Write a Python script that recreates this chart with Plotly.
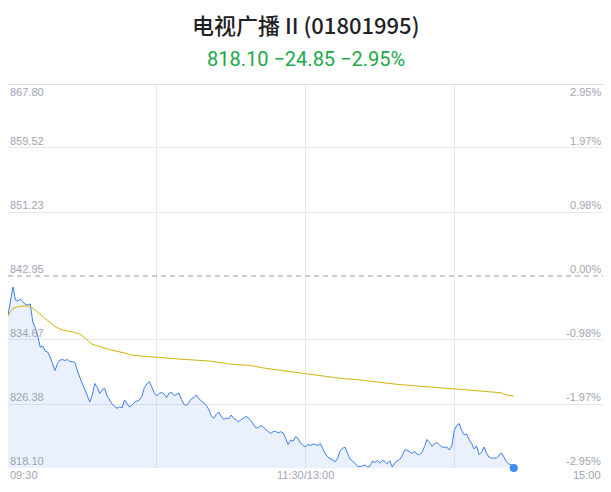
import plotly.graph_objects as go

# ---- data ----
price = [837.90, 839.84, 841.53, 839.84, 839.71, 839.97, 839.65, 839.26, 839.20, 839.33,
         836.99, 836.28, 835.18, 833.76, 833.89, 833.24, 833.11, 832.47, 831.56, 830.72,
         831.69, 832.08, 832.14, 832.01, 832.14, 831.88, 831.88, 831.75, 830.65, 829.75,
         828.97, 828.26, 827.55, 826.64, 827.55, 829.04, 828.52, 827.74, 828.26, 828.39,
         827.42, 826.84, 826.38, 826.06, 825.83, 826.02, 825.87, 826.90, 826.38, 826.00,
         826.25, 826.58, 826.77, 826.90, 827.35, 828.52, 828.97, 829.30, 828.58, 827.81,
         827.42, 827.77, 827.87, 827.68, 827.22, 827.81, 827.87, 827.48, 827.64, 827.77,
         826.97, 826.34, 826.19, 826.71, 827.06, 827.22, 827.55, 827.06, 826.84, 826.51,
         826.19, 825.67, 824.89, 824.53, 825.02, 825.35, 824.77, 824.38, 824.57, 824.47,
         824.96, 824.51, 824.34, 824.05, 824.38, 824.51, 824.77, 824.57, 824.21, 823.73,
         823.28, 823.34, 823.60, 823.37, 823.15, 822.82, 822.57, 822.82, 822.82, 822.63,
         822.80, 822.63, 821.92, 821.14, 821.72, 821.55, 822.15, 821.92, 821.34, 821.01,
         820.88, 821.14, 821.01, 821.21, 821.14, 821.01, 821.27, 820.62, 819.91, 819.52,
         819.34, 819.11, 818.91, 819.39, 820.36, 820.66, 820.78, 819.98, 819.23, 819.01,
         818.68, 818.33, 818.27, 818.36, 818.49, 818.23, 818.32, 819.01, 818.81, 819.07,
         818.75, 819.11, 818.94, 818.64, 819.04, 818.23, 818.75, 819.01, 819.20, 819.72,
         820.43, 820.41, 820.24, 820.00, 820.24, 819.91, 819.81, 820.11, 820.88, 821.79,
         821.40, 820.91, 821.21, 821.40, 821.10, 820.82, 820.75, 820.82, 820.43, 820.95,
         822.95, 823.60, 823.86, 822.95, 822.40, 822.50, 821.79, 821.27, 820.56, 820.95,
         819.83, 820.11, 820.82, 820.04, 819.52, 819.37, 819.39, 819.39, 819.65, 820.07,
         819.55, 818.93, 818.62, 818.54, 818.10]

avg = [837.77, 838.36, 838.74, 838.91, 838.98, 839.04, 839.07, 839.07, 839.07, 839.04,
       838.79, 838.51, 838.24, 837.94, 837.68, 837.47, 837.26, 836.97, 836.67, 836.39,
       836.22, 836.06, 835.95, 835.88, 835.83, 835.78, 835.72, 835.63, 835.53, 835.44,
       835.18, 834.91, 834.64, 834.37, 834.12, 834.02, 833.91, 833.81, 833.71, 833.60,
       833.50, 833.42, 833.36, 833.29, 833.23, 833.16, 833.10, 833.03, 832.90, 832.76,
       832.70, 832.67, 832.65, 832.61, 832.58, 832.55, 832.53, 832.49, 832.47, 832.44,
       832.42, 832.38, 832.35, 832.33, 832.30, 832.28, 832.25, 832.22, 832.20, 832.18,
       832.17, 832.16, 832.13, 832.12, 832.11, 832.09, 832.07, 832.04, 832.01, 832.00,
       831.97, 831.95, 831.91, 831.87, 831.83, 831.80, 831.78, 831.71, 831.64, 831.56,
       831.52, 831.49, 831.48, 831.47, 831.44, 831.43, 831.42, 831.40, 831.37, 831.29,
       831.21, 831.13, 831.09, 831.05, 831.00, 830.96, 830.92, 830.88, 830.84, 830.80,
       830.77, 830.72, 830.68, 830.63, 830.57, 830.53, 830.48, 830.43, 830.38, 830.32,
       830.29, 830.25, 830.21, 830.17, 830.13, 830.09, 830.07, 830.03, 830.00, 829.95,
       829.90, 829.84, 829.78, 829.72, 829.69, 829.68, 829.65, 829.64, 829.62, 829.60,
       829.58, 829.54, 829.49, 829.45, 829.40, 829.36, 829.31, 829.25, 829.21, 829.18,
       829.15, 829.11, 829.07, 829.03, 829.00, 828.97, 828.94, 828.92, 828.89, 828.87,
       828.84, 828.81, 828.79, 828.76, 828.72, 828.70, 828.67, 828.65, 828.62, 828.61,
       828.58, 828.56, 828.53, 828.51, 828.48, 828.45, 828.43, 828.40, 828.38, 828.37,
       828.34, 828.31, 828.30, 828.27, 828.25, 828.23, 828.21, 828.20, 828.17, 828.16,
       828.13, 828.10, 828.09, 828.06, 828.03, 827.99, 827.96, 827.94, 827.91, 827.83,
       827.65, 827.54, 827.50, 827.46, 827.42]

minutes = list(range(len(price)))
prev_close = 842.95
y_ticks = [867.80, 859.52, 851.23, 842.95, 834.67, 826.38, 818.10]
pct_labels = ["2.95%", "1.97%", "0.98%", "0.00%", "-0.98%", "-1.97%", "-2.95%"]
x_tick_vals = [0, 120, 240]
x_tick_text = ["09:30", "11:30/13:00", "15:00"]
x_grid_vals = [0, 60, 120, 180, 240]
title_text = "电视广播 II (01801995)"
sub_text = "818.10 \u221224.85 \u22122.95%"

LABEL = "#a0a4b4"
GRID = "#e6e8ef"
LFONT = "Liberation Sans"

fig = go.Figure()
fig.add_trace(go.Scatter(x=minutes, y=price, mode="lines",
                         line=dict(color="#3b7ff0", width=1),
                         fill="tozeroy", fillcolor="rgba(60,120,230,0.11)",
                         hoverinfo="skip", showlegend=False))
fig.add_trace(go.Scatter(x=minutes, y=avg, mode="lines",
                         line=dict(color="#d2b20c", width=1),
                         hoverinfo="skip", showlegend=False))
fig.add_trace(go.Scatter(x=[minutes[-1]], y=[price[-1]], mode="markers",
                         marker=dict(color="#3d8bf5", size=8),
                         hoverinfo="skip", showlegend=False, cliponaxis=False))

fig.add_shape(type="line", xref="paper", x0=0, x1=1, y0=prev_close, y1=prev_close,
              line=dict(color="#959cb2", width=1, dash="5px,4px"))
fig.add_shape(type="line", xref="paper", x0=0, x1=1, yref="y", y0=y_ticks[0], y1=y_ticks[0],
              line=dict(color="#dcdde3", width=2))

annotations = []
for i, (v, p) in enumerate(zip(y_ticks, pct_labels)):
    anchor = "top" if i == 0 else "bottom"
    shift = 0 if i == 0 else -1
    annotations.append(dict(x=0, xref="paper", y=v, yref="y", text=f"{v:.2f}",
                            showarrow=False, xanchor="left", yanchor=anchor, yshift=shift,
                            font=dict(family=LFONT, size=11, color=LABEL)))
    annotations.append(dict(x=1, xref="paper", y=v, yref="y", text=p,
                            showarrow=False, xanchor="right", yanchor=anchor, yshift=shift,
                            font=dict(family=LFONT, size=11, color=LABEL)))
for v, t, xa in zip(x_tick_vals, x_tick_text, ["left", "center", "right"]):
    annotations.append(dict(x=v, xref="x", y=0, yref="paper", text=t, showarrow=False,
                            xanchor=xa, yanchor="top", yshift=1,
                            font=dict(family=LFONT, size=11, color=LABEL)))
annotations.append(dict(x=0.5, xref="paper", y=1.155, yref="paper", text=title_text,
                        showarrow=False, xanchor="center", yanchor="middle",
                        font=dict(family="Noto Sans CJK SC", size=22, color="#1f2126",
                                  weight=500)))
annotations.append(dict(x=0.5, xref="paper", y=1.064, yref="paper", text=sub_text,
                        showarrow=False, xanchor="center", yanchor="middle",
                        font=dict(family="Roboto", size=20, color="#20a84a")))

fig.update_layout(
    width=611, height=492,
    margin=dict(l=0, r=16, t=76, b=32, autoexpand=False),
    paper_bgcolor="white", plot_bgcolor="white",
    annotations=annotations,
    xaxis=dict(range=[0, 240], tickvals=x_grid_vals, showticklabels=False,
               showgrid=True, gridcolor=GRID, gridwidth=1, zeroline=False,
               showline=False, ticks=""),
    yaxis=dict(range=[y_ticks[-1], y_ticks[0]],
               tickvals=[v for v in y_ticks if v != prev_close],
               showticklabels=False, showgrid=True, gridcolor=GRID, gridwidth=1,
               zeroline=False, showline=False, ticks=""),
)

fig.write_html("out.html")
